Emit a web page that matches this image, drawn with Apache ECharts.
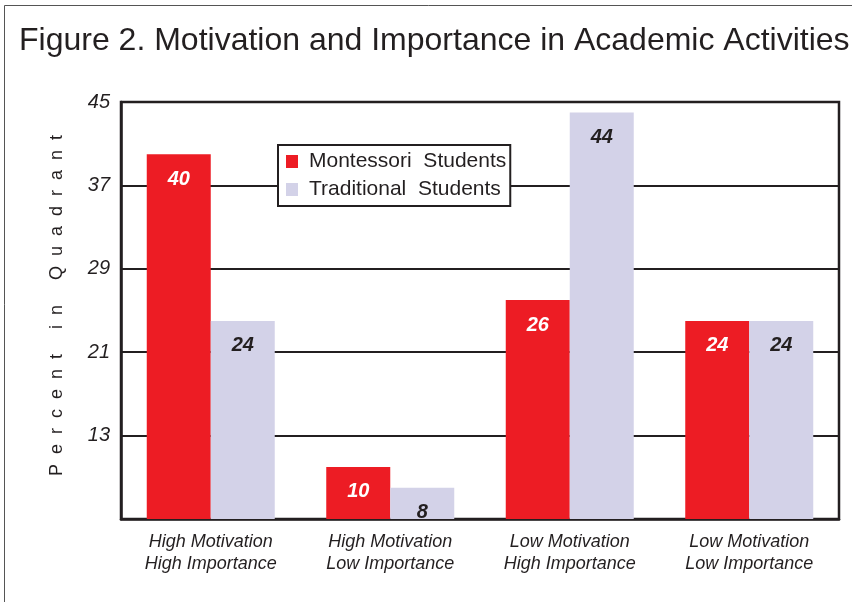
<!DOCTYPE html>
<html>
<head>
<meta charset="utf-8">
<script src="https://cdn.jsdelivr.net/npm/echarts@6/dist/echarts.min.js"></script>
<style>
    html, body { margin: 0; padding: 0; background: #fff; }
    #chart { width: 852px; height: 602px; }
</style>
</head>
<body>
<div id="chart"></div>
<script>
const categories = [
    'High Motivation\nHigh Importance',
    'High Motivation\nLow Importance',
    'Low Motivation\nHigh Importance',
    'Low Motivation\nLow Importance'
];
const montessori = [40, 10, 26, 24];
const traditional = [24, 8, 44, 24];
const yTicks = [13, 21, 29, 37, 45];

// 图表
(function () {
    const font = '"Liberation Sans", Arial, sans-serif'
    const ink = '#231f20'
    const chart = echarts.init(document.getElementById('chart'))

    const barLabel = function (color) {
        return {
            show: true,
            position: 'insideTop',
            distance: 15,
            color: color,
            fontFamily: font,
            fontSize: 20,
            fontWeight: 'bold',
            fontStyle: 'italic'
        }
    }

    const option = {
        animation: false,
        textStyle: { fontFamily: font },
        title: {
            text: 'Figure 2. Motivation and Importance in Academic Activities',
            left: 19,
            top: 25,
            padding: 0,
            textStyle: { color: ink, fontSize: 32, fontWeight: 'normal', fontFamily: font }
        },
        graphic: [
            {
                type: 'rect',
                shape: { x: 4.5, y: 5.5, width: 900, height: 700 },
                style: { fill: 'none', stroke: '#555', lineWidth: 1 },
                silent: true
            }
        ],
        legend: {
            orient: 'vertical',
            left: 278,
            top: 145,
            padding: [5, 4, 5, 8],
            itemGap: 5,
            itemWidth: 12,
            itemHeight: 13,
            icon: 'rect',
            backgroundColor: '#fff',
            borderColor: ink,
            borderWidth: 2,
            borderRadius: 0,
            textStyle: { color: ink, fontSize: 21, fontFamily: font, lineHeight: 23, padding: [0, 0, 0, 6] },
            data: ['Montessori  Students', 'Traditional  Students']
        },
        grid: {
            left: 121,
            right: 13,
            top: 102,
            bottom: 83,
            show: true,
            borderColor: ink,
            borderWidth: 2.5,
            containLabel: false
        },
        xAxis: {
            type: 'category',
            data: categories,
            axisTick: { show: false },
            axisLine: { lineStyle: { color: ink, width: 2.5 } },
            axisLabel: {
                color: ink,
                fontSize: 18,
                fontStyle: 'italic',
                lineHeight: 22,
                margin: 12
            }
        },
        yAxis: {
            type: 'value',
            min: 5,
            max: 45,
            name: 'P  e  r  c  e  n  t     i  n     Q  u  a  d  r  a  n  t',
            nameLocation: 'middle',
            nameRotate: 90,
            nameGap: 55,
            nameTextStyle: { color: ink, fontSize: 18, fontFamily: font, padding: [0, 0, 0, 10] },
            axisLine: { show: true, lineStyle: { color: ink, width: 2.5 } },
            axisTick: { show: false, customValues: yTicks },
            axisLabel: {
                customValues: yTicks,
                color: ink,
                fontSize: 20,
                fontStyle: 'italic',
                margin: 11
            },
            splitLine: { show: true, lineStyle: { color: ink, width: 2 } }
        },
        series: [
            {
                name: 'Montessori  Students',
                type: 'bar',
                barWidth: 64,
                barGap: '0%',
                itemStyle: { color: '#ed1c24' },
                label: barLabel('#ffffff'),
                data: montessori
            },
            {
                name: 'Traditional  Students',
                type: 'bar',
                barWidth: 64,
                barGap: '0%',
                itemStyle: { color: '#d3d2e8' },
                label: barLabel(ink),
                data: traditional
            }
        ]
    }

    chart.setOption(option)
    window.addEventListener('resize', () => {
        chart.resize()
    })
})();
</script>
</body>
</html>
